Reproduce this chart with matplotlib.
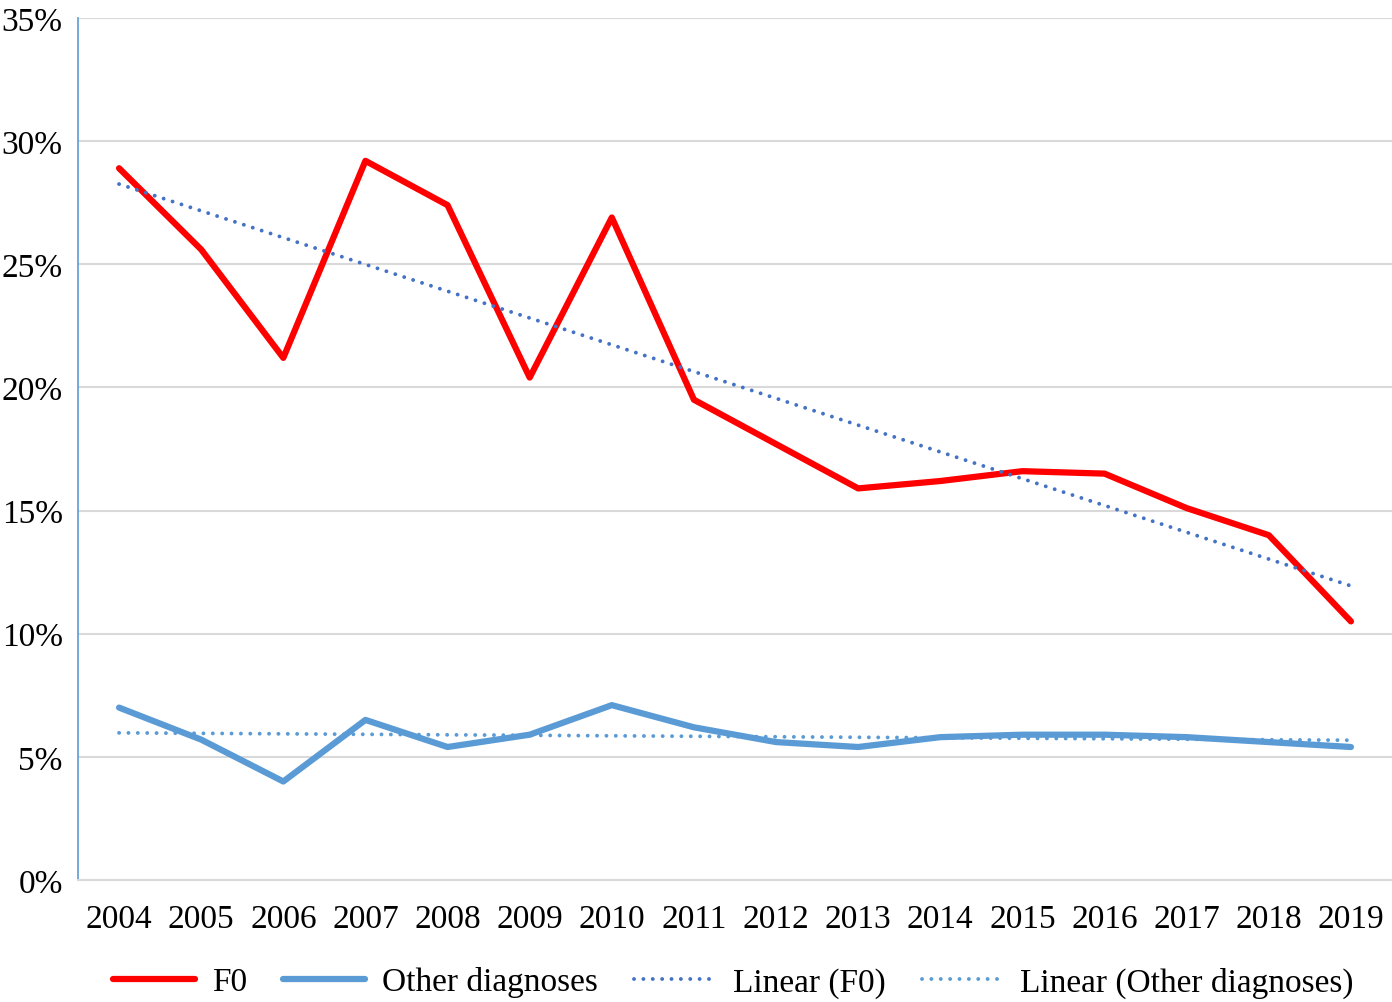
import numpy as np
import matplotlib
matplotlib.use("Agg")
import matplotlib.pyplot as plt
from matplotlib.ticker import FuncFormatter

years = list(range(2004, 2020))
f0 = [28.9, 25.6, 21.2, 29.2, 27.4, 20.4, 26.9, 19.5, 17.7, 15.9,
      16.2, 16.6, 16.5, 15.1, 14.0, 10.5]
other = [7.0, 5.7, 4.0, 6.5, 5.4, 5.9, 7.1, 6.2, 5.6, 5.4,
         5.8, 5.9, 5.9, 5.8, 5.6, 5.4]

RED = "#FF0000"
BLUE = "#5B9BD5"
DARKBLUE = "#4472C4"
GRID = "#D9D9D9"

plt.rcParams["font.family"] = ["Liberation Serif", "DejaVu Serif"]

fig = plt.figure(figsize=(13.92, 10.03), dpi=100)
ax = fig.add_axes([78 / 1392, 1 - 881 / 1003, 1 - 78 / 1392, (881 - 19) / 1003])

x = np.arange(len(years))
ax.plot(x, f0, color=RED, lw=4.5, solid_capstyle="round",
        solid_joinstyle="round", label="F0", zorder=3)
ax.plot(x, other, color=BLUE, lw=4.5, solid_capstyle="round",
        solid_joinstyle="round", label="Other diagnoses", zorder=3)

# linear trend lines
for ys, col, lab in [(f0, DARKBLUE, "Linear (F0)"),
                     (other, BLUE, "Linear (Other diagnoses)")]:
    k, b = np.polyfit(x, ys, 1)
    ax.plot(x, k * x + b, color=col, lw=2.8, linestyle=(0, (0.01, 2.4)),
            dash_capstyle="round", label=lab, zorder=4)

ax.set_xlim(-0.5, len(years) - 0.5)
ax.set_ylim(0, 35)
ax.set_yticks(np.arange(0, 36, 5))
ax.yaxis.set_major_formatter(FuncFormatter(lambda v, _: f"{v:.0f}%"))
ax.set_xticks(x)
ax.set_xticklabels([str(y) for y in years])
ax.tick_params(axis="both", length=0, labelsize=24)
ax.tick_params(axis="y", pad=11)
ax.tick_params(axis="x", pad=17)
ax.yaxis.grid(True, color=GRID, lw=1.5)
ax.set_axisbelow(True)

for s in ["top", "right"]:
    ax.spines[s].set_visible(False)
ax.spines["left"].set_color(BLUE)
ax.spines["left"].set_linewidth(1.2)
ax.spines["bottom"].set_color(GRID)
ax.spines["bottom"].set_linewidth(1.5)

fig.legend(loc="center", bbox_to_anchor=(0.527, 1 - 983 / 1003), ncol=4,
           frameon=False, fontsize=24, handlelength=2.45, columnspacing=1.1,
           handletextpad=0.5)

fig.savefig("out.png", dpi=100)
